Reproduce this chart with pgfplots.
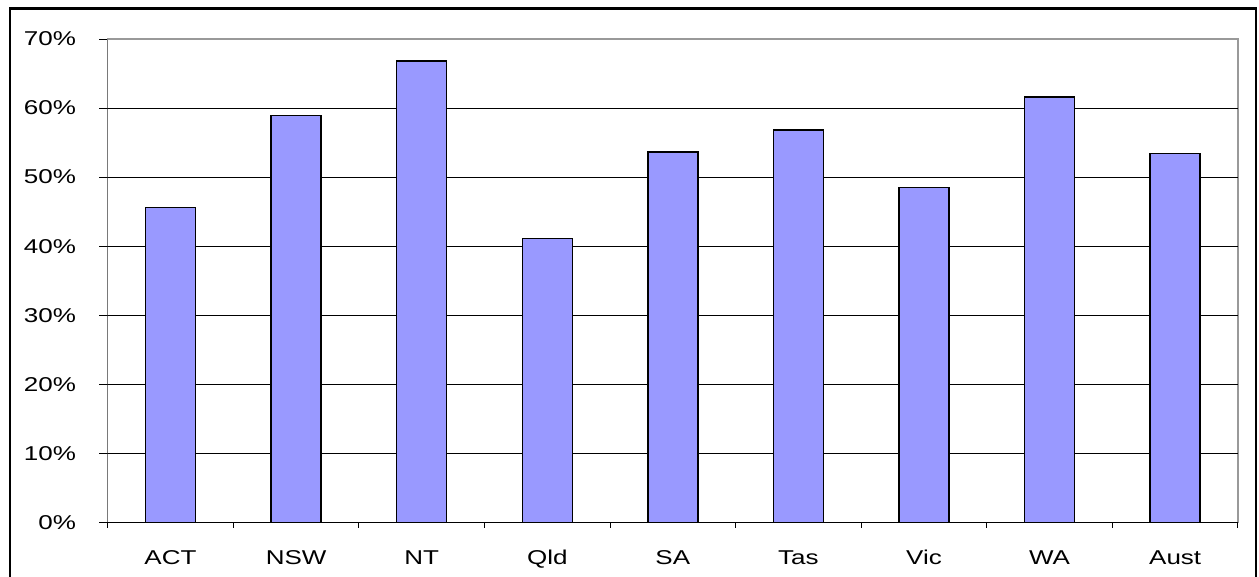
\documentclass[border=0pt]{standalone}
\usepackage{pgfplots}
\pgfplotsset{compat=1.18}
\usepackage{fontspec}
\setmainfont{Liberation Sans}[FakeStretch=1.3]
\definecolor{barblue}{HTML}{9999FF}

\begin{document}
\begin{tikzpicture}
	% 1 px of the reference = 0.5pt
	\path[use as bounding box] (0,0) rectangle (629.5pt,288.5pt);
	\draw[line width=1.2pt] (5pt,-1pt) -- (5pt,284.3pt) -- (628pt,284.3pt) -- (628pt,-1pt);
	\begin{axis}[
		at={(53.85pt,27.35pt)}, anchor=south west,
		scale only axis,
		width=565.15pt, height=241.65pt,
		xmin=0.5, xmax=9.5,
		ymin=0, ymax=70,
		xtick={1,...,9},
		xticklabels={ACT,NSW,NT,Qld,SA,Tas,Vic,WA,Aust},
		minor xtick={0.5,1.5,...,9.5},
		ytick={0,10,...,70},
		yticklabels={0\%,10\%,20\%,30\%,40\%,50\%,60\%,70\%},
		extra y ticks={0,10,...,60},
		extra y tick labels={},
		extra y tick style={grid=major, major grid style={black, line width=0.5pt}},
		xtick pos=bottom, ytick pos=left,
		tick align=outside,
		x tick style={draw=none},
		minor x tick style={draw=black, line width=0.5pt},
		minor tick length=2.7pt,
		y tick style={draw=black, line width=0.5pt},
		major tick length=4.3pt,
		axis line style={draw=gray!80, line width=0.6pt},
		tick label style={font=\fontsize{10}{12}\selectfont},
		yticklabel style={xshift=-8pt},
		xticklabel style={yshift=-6.2pt},
		ybar, bar width=25pt,
	]
	\addplot[fill=barblue, draw=black, line width=0.75pt] coordinates {
		(1,45.6) (2,58.9) (3,66.8) (4,41.1) (5,53.6)
		(6,56.8) (7,48.5) (8,61.6) (9,53.4)
	};
	\draw[black, line width=0.6pt] (axis cs:0.5,0) -- (axis cs:9.5,0);
	\draw[black!75, line width=0.6pt] (axis cs:0.5,0) -- (axis cs:0.5,70);
	\end{axis}
\end{tikzpicture}
\end{document}
